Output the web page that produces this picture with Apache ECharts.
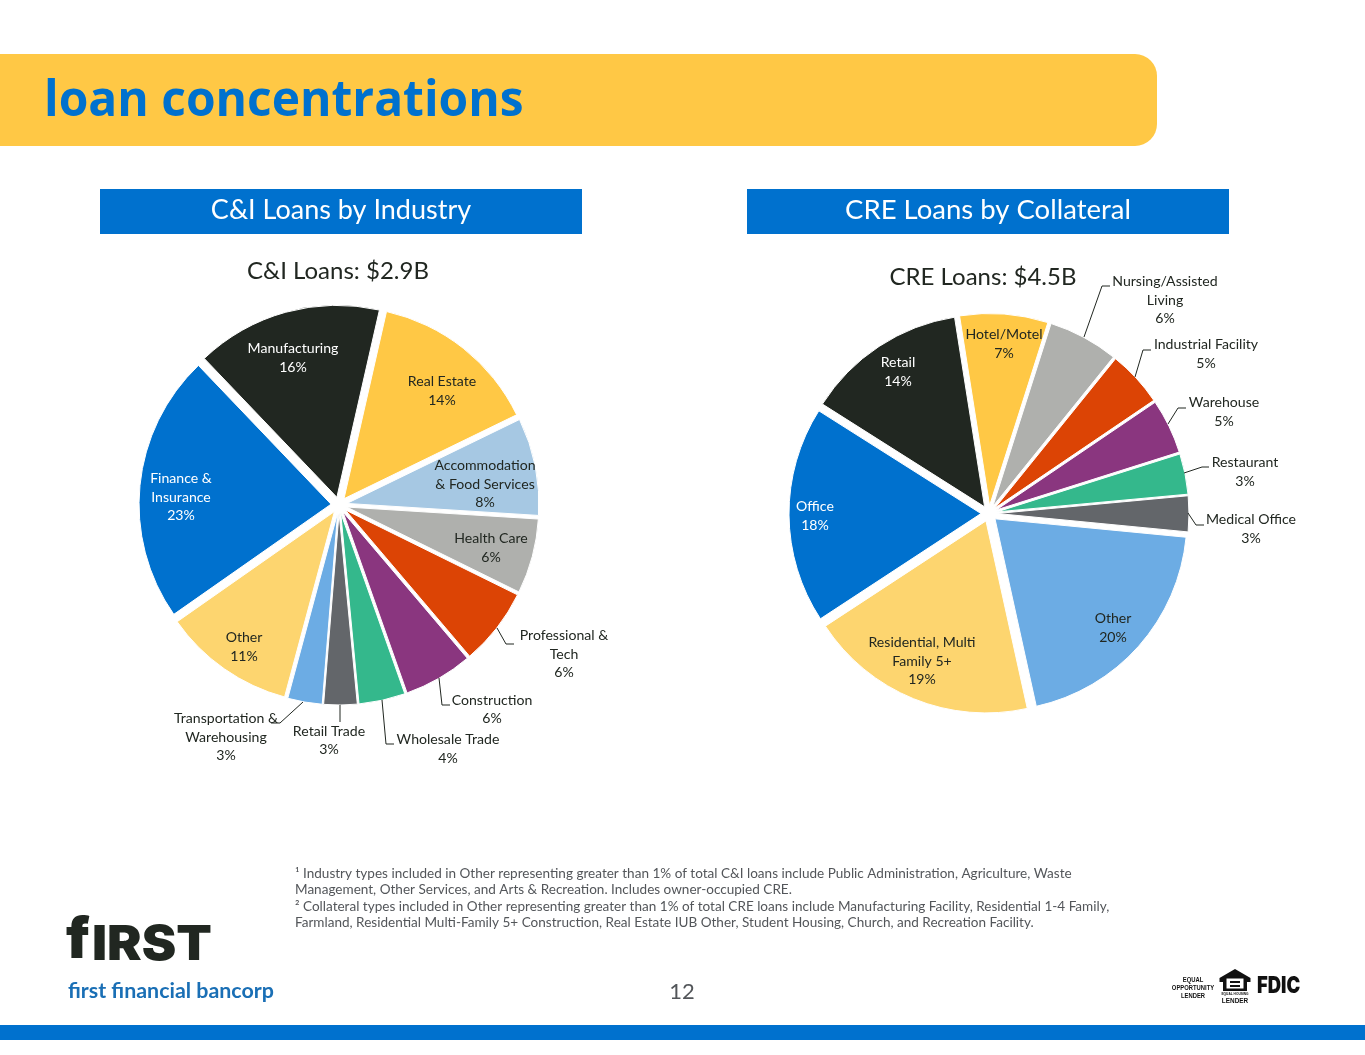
<!DOCTYPE html>
<html><head><meta charset="utf-8">
<style>html,body{margin:0;padding:0;background:#fff}#c{width:1365px;height:1055px}</style>
<script src="https://cdn.jsdelivr.net/npm/echarts@6/dist/echarts.min.js"></script>
</head><body><div id="c"></div>
<script>
const ciCategories = ['Real Estate','Accommodation\n& Food Services','Health Care','Professional &\nTech','Construction','Wholesale Trade','Retail Trade','Transportation &\nWarehousing','Other','Finance &\nInsurance','Manufacturing'];
const ciValues = [14.25,8.2,6.3,6.5,5.8,3.9,2.8,2.9,11.1,22.6,15.7];
const ciPercents = [14,8,6,6,6,4,3,3,11,23,16];
const ciColors = ['#FFC845','#A6C8E3','#AFB0AD','#DC4405','#8A367F','#34B88C','#63666A','#6CACE4','#FDD56F','#0071CE','#212721'];
const ciText = ['#212721','#212721','#212721','#212721','#212721','#212721','#212721','#212721','#212721','#fff','#fff'];
const ciLabelAt = [[442,391],[485,484],[491,548],[564,654],[492,709.5],[448,749],[329,740.5],[226,737],[244,647],[181,497],[293,358]];
const ciLeaders = [null,null,null,[[497,628],[506,644],[514,644]],[[439,678],[442,705],[450,705]],[[382,700],[386,744],[394,744]],[[340,705],[340,722]],[[303,702],[280,723],[271,723]],null,null,null];

const creCategories = ['Hotel/Motel','Nursing/Assisted\nLiving','Industrial Facility','Warehouse','Restaurant','Medical Office','Other','Residential, Multi\nFamily 5+','Office','Retail'];
const creValues = [7.4,5.9,4.7,4.6,3.4,3.0,20,19.2,18.2,13.5];
const crePercents = [7,6,5,5,3,3,20,19,18,14];
const creColors = ['#FFC845','#AFB0AD','#DC4405','#8A367F','#34B88C','#63666A','#6CACE4','#FDD56F','#0071CE','#212721'];
const creText = ['#212721','#212721','#212721','#212721','#212721','#212721','#212721','#212721','#fff','#fff'];
const creLabelAt = [[1004,344],[1165,300],[1206,354],[1224,412],[1245,472],[1251,529],[1113,628],[922,661],[815,516],[898,372]];
const creLeaders = [null,[[1084,337],[1102,286],[1110,286]],[[1135,377],[1143,350],[1151,350]],[[1168,424],[1178,408],[1186,408]],[[1184,473],[1202,467],[1209,467]],[[1188,513],[1196,525],[1204,525]],null,null,null,null];

const footnotes = [
 '¹ Industry types included in Other representing greater than 1% of total C&I loans include Public Administration, Agriculture, Waste',
 'Management, Other Services, and Arts & Recreation. Includes owner-occupied CRE.',
 '² Collateral types included in Other representing greater than 1% of total CRE loans include Manufacturing Facility, Residential 1-4 Family,',
 'Farmland, Residential Multi-Family 5+ Construction, Real Estate IUB Other, Student Housing, Church, and Recreation Facility.'
];
const INK='#212721', BLUE='#0071CE', GOLD='#FFC845', LABEL_FONT='Lato', GREY='#53565A', BLACK='#111';

function slices(names, values, colors, center, startAngle){
  return {
    type:'pie', center, radius:192, startAngle, selectedMode:'multiple', selectedOffset:8,
    animation:false, silent:true, itemStyle:{borderColor:'#fff',borderWidth:1},
    emphasis:{disabled:true}, label:{show:false}, labelLine:{show:false},
    data:names.map((n,i)=>({name:n,value:values[i],selected:true,itemStyle:{color:colors[i]}}))
  };
}
function labels(names, values, percents, textColors, labelAt, leaders, center, startAngle){
  return {
    type:'pie', center, radius:192, startAngle, animation:false, silent:true, z:3,
    avoidLabelOverlap:false, emphasis:{disabled:true},
    itemStyle:{color:'rgba(0,0,0,0)',borderWidth:0},
    labelLayout:(p)=>{
      const i=p.dataIndex, o={x:labelAt[i][0],y:labelAt[i][1],align:'center',verticalAlign:'middle'};
      if(leaders[i]) o.labelLinePoints=leaders[i];
      return o;
    },
    data:names.map((n,i)=>({
      name:n, value:values[i],
      label:{show:true,position:'outside',color:textColors[i],fontFamily:LABEL_FONT,fontSize:14.1,lineHeight:18.5,align:'center',
             formatter:n+'\n'+percents[i]+'%'},
      labelLine:{show:!!leaders[i],lineStyle:{color:INK,width:1}}
    }))
  };
}
const txt=(x,y,text,font,fill,align,extra)=>Object.assign({type:'text',x,y,silent:true,z:5,
  style:{text,font,fill,textAlign:align||'left',textVerticalAlign:'middle'}},extra||{});
const graphic=[
 {type:'rect',silent:true,shape:{x:-30,y:54,width:1187,height:92,r:22},style:{fill:GOLD}},
 {type:'rect',silent:true,shape:{x:100,y:189,width:482,height:45},style:{fill:BLUE}},
 {type:'rect',silent:true,shape:{x:747,y:189,width:482,height:45},style:{fill:BLUE}},
 {type:'rect',silent:true,shape:{x:0,y:1025,width:1365,height:15},style:{fill:BLUE}},
 txt(44,101,'loan concentrations','bold 51px "Open Sans"',BLUE,'left',{scaleX:0.94}),
 txt(341,210,'C&I Loans by Industry','27px Lato','#fff','center'),
 txt(988,210,'CRE Loans by Collateral','27.5px Lato','#fff','center'),
 txt(338,271,'C&I Loans: $2.9B','24px Lato',INK,'center'),
 txt(983,277,'CRE Loans: $4.5B','24px Lato',INK,'center'),
 ...footnotes.map((t,i)=>txt(295,874+i*16.1,t,'13.55px Lato',GREY)),
 txt(682,992,'12','22px Lato',GREY,'center'),
 txt(66,941,'f','900 56px Inter',INK),
 txt(92,945.5,'IRST','900 48px Inter',INK,'left',{scaleX:1.08}),
 txt(68,991,'first financial bancorp','bold 21.4px Lato','#1A6FB5'),
 txt(1193,980,'EQUAL','bold 7.5px "Liberation Sans"',BLACK,'center',{scaleX:0.78}),
 txt(1193,988,'OPPORTUNITY','bold 7.5px "Liberation Sans"',BLACK,'center',{scaleX:0.78}),
 txt(1193,996,'LENDER','bold 7.5px "Liberation Sans"',BLACK,'center',{scaleX:0.78}),
 {type:'polygon',silent:true,shape:{points:[[1235,969],[1250.5,978],[1250.5,982],[1247,982],[1247,991],[1223,991],[1223,982],[1219.5,982],[1219.5,978]]},style:{fill:BLACK}},
 {type:'rect',silent:true,shape:{x:1226.5,y:978.5,width:17,height:10},style:{fill:'#fff'}},
 {type:'rect',silent:true,shape:{x:1230,y:981,width:10,height:2},style:{fill:BLACK}},
 {type:'rect',silent:true,shape:{x:1230,y:985,width:10,height:2},style:{fill:BLACK}},
 txt(1235,994,'EQUAL HOUSING','bold 4px "Liberation Sans"',BLACK,'center',{scaleX:0.8}),
 txt(1235,1000.5,'LENDER','bold 8px "Liberation Sans"',BLACK,'center',{scaleX:0.8}),
 txt(1257,986.5,'FDIC','900 23px Inter',BLACK,'left',{scaleX:0.8})
];
const chart=echarts.init(document.getElementById('c'));
chart.setOption({
  animation:false, backgroundColor:'#fff', graphic,
  series:[
    slices(ciCategories,ciValues,ciColors,[339,505],77.2),
    slices(creCategories,creValues,creColors,[989,513.5],99),
    labels(ciCategories,ciValues,ciPercents,ciText,ciLabelAt,ciLeaders,[339,505],77.2),
    labels(creCategories,creValues,crePercents,creText,creLabelAt,creLeaders,[989,513.5],99)
  ]
});
</script></body></html>
